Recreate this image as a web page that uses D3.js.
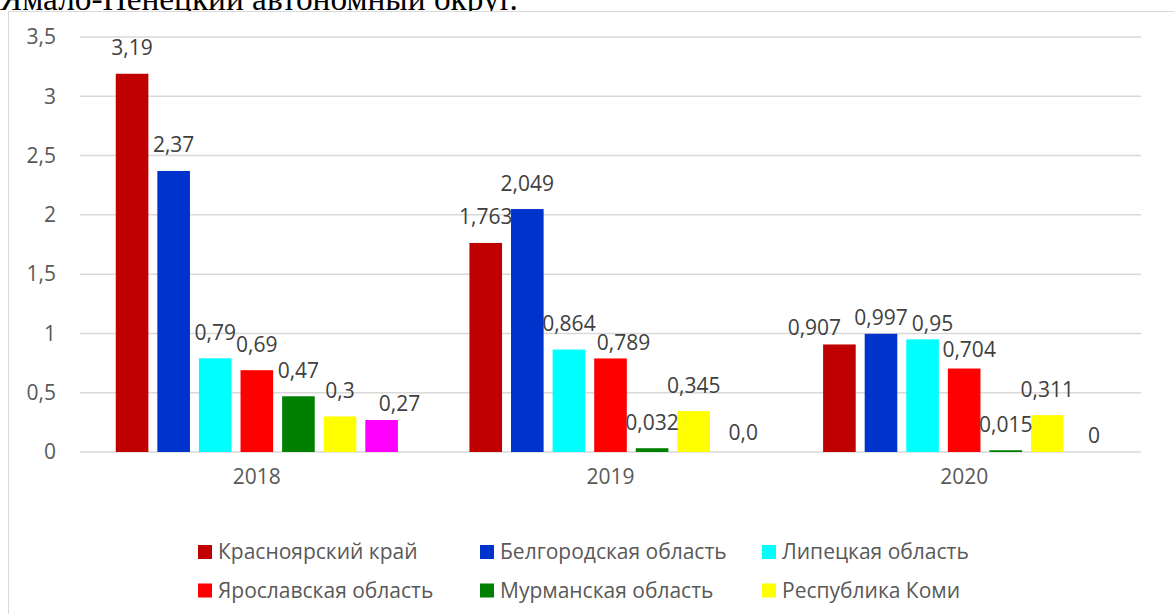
<!DOCTYPE html>
<html>
<head>
<meta charset="utf-8">
<script src="https://cdn.jsdelivr.net/npm/d3@7"></script>
<style>
  body { margin: 0; background: #fff; overflow: hidden; }
  svg { display: block; }
</style>
</head>
<body>
<svg width="1174" height="614"></svg>
<script>
// the data
const years = ["2018", "2019", "2020"];
const regions = [
  "Красноярский край",
  "Белгородская область",
  "Липецкая область",
  "Ярославская область",
  "Мурманская область",
  "Республика Коми",
  "Ямало-Ненецкий автономный округ"
];
const colors = ["#c00000", "#0033cc", "#00ffff", "#ff0000", "#008000", "#ffff00", "#ff00ff"];
const values2018 = [3.19, 2.37, 0.79, 0.69, 0.47, 0.3, 0.27];
const values2019 = [1.763, 2.049, 0.864, 0.789, 0.032, 0.345, 0];
const values2020 = [0.907, 0.997, 0.95, 0.704, 0.015, 0.311, 0];
const labels2018 = ["3,19", "2,37", "0,79", "0,69", "0,47", "0,3", "0,27"];
const labels2019 = ["1,763", "2,049", "0,864", "0,789", "0,032", "0,345", "0,0"];
const labels2020 = ["0,907", "0,997", "0,95", "0,704", "0,015", "0,311", "0"];
const yTicks = [0, 0.5, 1, 1.5, 2, 2.5, 3, 3.5];

const valuesByYear = [values2018, values2019, values2020];
const labelsByYear = [labels2018, labels2019, labels2020];

// hand-moved data labels (as in the original chart)
const labelShift = {
  "0|6": [18, 9.5],
  "1|3": [13, 10],
  "1|6": [8, 6],
  "2|0": [-25, 9.5],
  "2|1": [0, 9.5],
  "2|2": [10, 10],
  "2|3": [5, 7],
  "2|6": [5, 9]
};

const svg = d3.select("svg");
const FONT = "'Open Sans', 'DejaVu Sans', sans-serif";
const FS = "21px";

// text of the document above the chart (cut off)
const caption = svg.append("text")
  .attr("x", 0)
  .attr("y", 10)
  .style("font-family", "'Liberation Serif', 'Times New Roman', serif")
  .style("font-size", "28px")
  .attr("fill", "#000")
  .text("Ямало-Ненецкий автономный округ.");
const capLen = caption.node().getComputedTextLength();
caption.style("font-size", (28 * 518 / capLen) + "px");

// chart area frame
svg.append("rect")
  .attr("x", 8.5)
  .attr("y", 11.5)
  .attr("width", 1200)
  .attr("height", 700)
  .attr("fill", "#fff")
  .attr("stroke", "#d9d9d9")
  .attr("stroke-width", 1);

const plot = { left: 80, right: 1141, top: 37, bottom: 452 };

const x0 = d3.scaleBand().domain(years).range([plot.left, plot.right]).padding(0);
const x1 = d3.scaleBand()
  .domain(d3.range(regions.length))
  .range([0, x0.bandwidth()])
  .paddingInner(0.216)
  .paddingOuter(0.86);
const y = d3.scaleLinear().domain([0, 3.5]).range([plot.bottom, plot.top]);

const locale = d3.formatLocale({ decimal: ",", thousands: " ", grouping: [3], currency: ["", ""] });
const fmt = locale.format("~g");

// gridlines
svg.append("g")
  .selectAll("line")
  .data(yTicks)
  .join("line")
  .attr("x1", plot.left)
  .attr("x2", plot.right)
  .attr("y1", (d) => y(d))
  .attr("y2", (d) => y(d))
  .attr("stroke", "#d9d9d9")
  .attr("stroke-width", 1.5);

// y axis labels
const yAxis = svg.append("g")
  .attr("transform", `translate(${plot.left - 24},0)`)
  .call(d3.axisLeft(y).tickValues(yTicks).tickFormat(fmt).tickSize(0).tickPadding(0));
yAxis.select(".domain").remove();
yAxis.selectAll("text")
  .style("font-family", FONT)
  .style("font-size", FS)
  .attr("fill", "#595959");

// x axis labels
const xAxis = svg.append("g")
  .attr("transform", `translate(0,${plot.bottom})`)
  .call(d3.axisBottom(x0).tickSize(0).tickPadding(17));
xAxis.select(".domain").remove();
xAxis.selectAll("text")
  .style("font-family", FONT)
  .style("font-size", FS)
  .attr("fill", "#595959");

// bars
const cells = [];
years.forEach((yr, i) => {
  regions.forEach((r, j) => {
    cells.push({ year: yr, yi: i, si: j, value: valuesByYear[i][j], label: labelsByYear[i][j] });
  });
});

svg.append("g")
  .selectAll("rect")
  .data(cells)
  .join("rect")
  .attr("x", (d) => x0(d.year) + x1(d.si))
  .attr("y", (d) => y(d.value))
  .attr("width", x1.bandwidth())
  .attr("height", (d) => y(0) - y(d.value))
  .attr("fill", (d) => colors[d.si]);

// data labels
svg.append("g")
  .selectAll("text")
  .data(cells)
  .join("text")
  .attr("x", (d) => {
    const s = labelShift[d.yi + "|" + d.si] || [0, 0];
    return x0(d.year) + x1(d.si) + x1.bandwidth() / 2 + s[0];
  })
  .attr("y", (d) => {
    const s = labelShift[d.yi + "|" + d.si] || [0, 0];
    return y(d.value) - 18.5 + s[1];
  })
  .attr("text-anchor", "middle")
  .style("font-family", FONT)
  .style("font-size", FS)
  .attr("fill", "#404040")
  .text((d) => d.label);

// legend: 3 columns; the 7th entry sits on a third row outside the picture, so it is left out
const legend = svg.append("g")
  .selectAll("g")
  .data(regions.slice(0, 6))
  .join("g")
  .attr("transform", (d, i) => `translate(${198 + (i % 3) * 282},${545 + Math.floor(i / 3) * 38.5})`);

legend.append("rect")
  .attr("width", 14)
  .attr("height", 14)
  .attr("fill", (d, i) => colors[i]);

legend.append("text")
  .attr("x", 20)
  .attr("y", 14)
  .style("font-family", FONT)
  .style("font-size", FS)
  .attr("fill", "#595959")
  .text((d) => d);
</script>
</body>
</html>
